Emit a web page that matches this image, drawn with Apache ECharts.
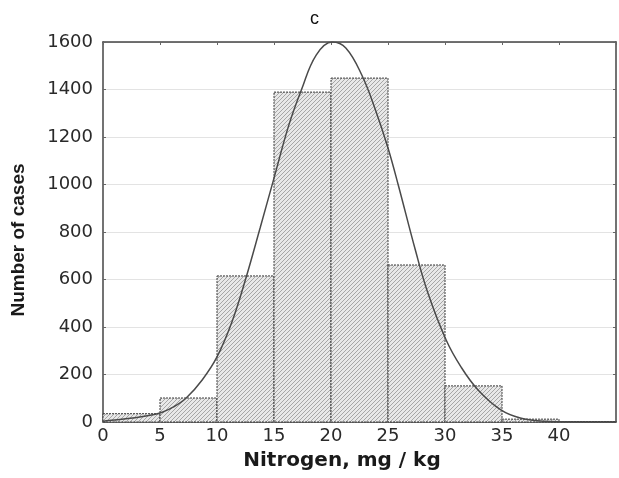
<!DOCTYPE html>
<html>
<head>
<meta charset="utf-8">
<script src="https://cdn.jsdelivr.net/npm/echarts@6/dist/echarts.min.js"></script>
<style>
html,body{margin:0;padding:0;background:#fff;}
#Chart{width:619px;height:478px;}
</style>
</head>
<body>
<div id="Chart"></div>
<script>
// histogram bins (mg/kg) and counts
var binStart=[0,5,10,15,20,25,30,35,40]
var binEnd=[5,10,15,20,25,30,35,40,45]
var binCount=[35,101,615,1389,1448,661,152,12,2]

// fitted curve
var curveX=[0,0.3,2.6,5,6.2,7.3,8.7,10,11.3,12.5,13.8,15,16.3,17.4,18.7,20.1,21.3,22.7,23.9,25,25.9,27.4,28.5,30.1,31.4,32.9,34.9,36.6,38.7,40,45]
var curveY=[2,5,17,38,64,101,177,274,420,600,820,1027,1250,1398,1545,1600,1575,1461,1314,1154,998,724,543,345,232,135,51,17,3,1,0]

var xTicks=[0,5,10,15,20,25,30,35,40]

//斜线填充
function makeHatch(){
	var c=document.createElement('canvas')
	c.width=4;c.height=4
	var ctx=c.getContext('2d')
	ctx.fillStyle='#e8e8e8'
	ctx.fillRect(0,0,4,4)
	ctx.strokeStyle='#a6a6a6'
	ctx.lineWidth=1
	ctx.beginPath()
	ctx.moveTo(0,4);ctx.lineTo(4,0)
	ctx.moveTo(-1,1);ctx.lineTo(1,-1)
	ctx.moveTo(3,5);ctx.lineTo(5,3)
	ctx.stroke()
	return c
}

function drawChar(){
	var myChart=echarts.init(document.getElementById('Chart'))
	var hatch=makeHatch()
	var font='"DejaVu Sans", "Liberation Sans", sans-serif'

	var barData=[]
	for(var i=0;i<binCount.length;i++){
		barData.push([binStart[i],binEnd[i],binCount[i]])
	}
	var lineData=[]
	for(var j=0;j<curveX.length;j++){
		lineData.push([curveX[j],curveY[j]])
	}

	var option={
		animation:false,
		title:{
			text:'c',
			left:305,
			top:5,
			textStyle:{fontFamily:'"Liberation Sans", Arial, sans-serif',fontSize:18,fontWeight:'normal',color:'#111'}
		},
		grid:{left:103,right:2,top:42,bottom:56},
		xAxis:[
			{
				type:'value',min:0,max:45,interval:5,
				name:'Nitrogen, mg / kg',
				nameLocation:'middle',
				nameGap:29,
				nameTextStyle:{fontFamily:font,fontSize:20,fontWeight:'bold',color:'#1a1a1a',padding:[0,35,0,0]},
				axisLine:{lineStyle:{color:'#444',width:1.5}},
				axisTick:{show:false},
				splitLine:{show:false},
				axisLabel:{
					fontFamily:font,fontSize:18,color:'#2a2a2a',margin:5,
					formatter:function(v){return xTicks.indexOf(v)>=0?String(v):''}
				}
			},
			{
				type:'value',min:0,max:45,interval:5,position:'top',
				axisLine:{show:true,onZero:false,lineStyle:{color:'#444',width:1.5}},
				axisTick:{show:true,inside:true,length:3,lineStyle:{color:'#666'}},
				axisLabel:{show:false},
				splitLine:{show:false}
			}
		],
		yAxis:[
			{
				type:'value',min:0,max:1600,interval:200,
				name:'Number of cases',
				nameLocation:'middle',
				nameGap:75,
				nameTextStyle:{fontFamily:'"Liberation Sans Narrow", "Liberation Sans", Arial, sans-serif',fontSize:19,fontWeight:'bold',color:'#1a1a1a',padding:[0,16,0,0]},
				axisLine:{show:true,lineStyle:{color:'#444',width:1.5}},
				axisTick:{show:true,inside:true,length:3,lineStyle:{color:'#666'}},
				axisLabel:{fontFamily:font,fontSize:18,color:'#2a2a2a',margin:10,
					formatter:function(v){return String(v)}},
				splitLine:{show:true,lineStyle:{color:'#e3e3e3',width:1}}
			},
			{
				type:'value',min:0,max:1600,interval:200,position:'right',
				axisLine:{show:true,onZero:false,lineStyle:{color:'#444',width:1.5}},
				axisTick:{show:true,inside:true,length:3,lineStyle:{color:'#666'}},
				axisLabel:{show:false},
				splitLine:{show:false}
			}
		],
		series:[
			{
				type:'custom',
				xAxisIndex:0,yAxisIndex:0,
				data:barData,
				encode:{x:[0,1],y:2},
				renderItem:function(params,api){
					var p0=api.coord([api.value(0),api.value(2)])
					var p1=api.coord([api.value(1),0])
					return {
						type:'rect',
						shape:{x:p0[0],y:p0[1],width:p1[0]-p0[0],height:p1[1]-p0[1]},
						style:{
							fill:{image:hatch,repeat:'repeat'},
							stroke:'#3a3a3a',
							lineWidth:1,
							lineDash:[2,1]
						}
					}
				},
				z:2
			},
			{
				type:'line',
				xAxisIndex:0,yAxisIndex:0,
				data:lineData,
				smooth:0.4,
				showSymbol:false,
				lineStyle:{color:'#4a4a4a',width:1.5},
				z:3
			}
		]
	}
	myChart.setOption(option)
}

drawChar()
</script>
</body>
</html>
